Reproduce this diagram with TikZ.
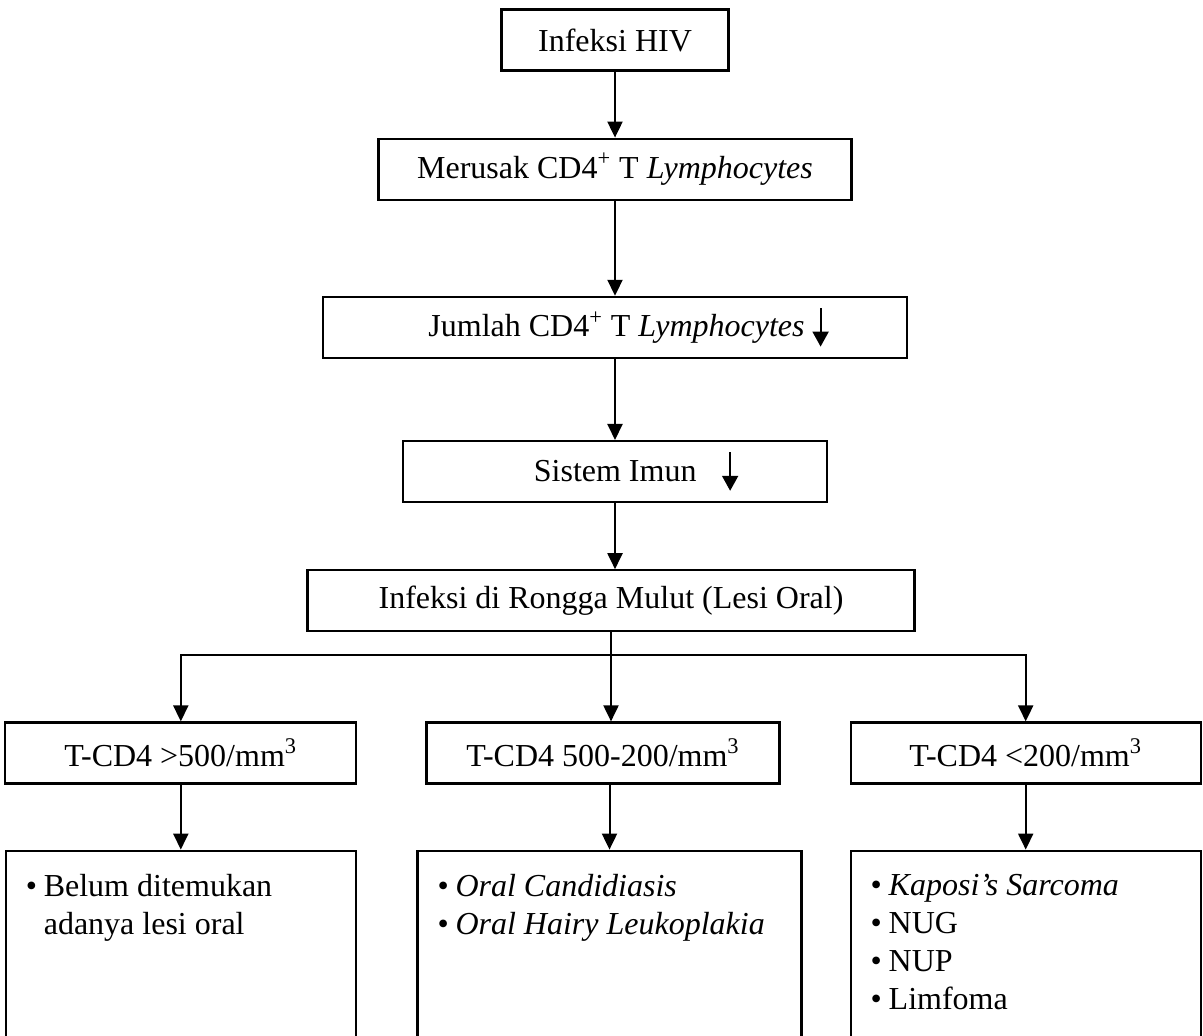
\documentclass[tikz,border=0pt]{standalone}
\usepackage{fontspec}
\setmainfont{Liberation Serif}
\usepackage{tikz}
\usetikzlibrary{positioning, arrows.meta}
\tikzset{
      kotak/.style={
		draw,
		line width=1.1pt,
		minimum width={#1},
		minimum height={30.5pt},
		inner sep=0pt,
	  },
      daftar/.style={
		draw,
		line width=1.1pt,
		inner xsep=10pt,
		inner ysep=12pt,
	  },
  		panah/.style={
    	line width=1pt,
    	-{Triangle[length=8pt,width=7.5pt]},
      },
  		garis/.style={
    	line width=1pt,
      }
  	}
\newcommand{\turun}{\tikz[baseline]{\draw[line width=1pt,-{Triangle[length=7.5pt,width=8pt]}] (0,0.9em) -- (0,-0.3em);}}
\newcommand{\isi}[2]{\parbox[t][85pt][t]{#1}{\raggedright #2}}
\newcommand{\butir}{\makebox[9pt][l]{\textbullet}}

\begin{document}
\begin{tikzpicture}[x=0.5pt, y=-0.5pt, font=\fontsize{16pt}{19pt}\selectfont]
    \useasboundingbox (0,0) rectangle (1203,1036);
    \node [kotak=113.5pt] (hiv) at (615,40) {Infeksi HIV};
    \node [kotak=236.5pt, below=33pt of hiv] (rusak) {Merusak CD4\textsuperscript{+} T \textit{Lymphocytes}};
    \node [kotak=292pt, below=47.5pt of rusak] (jumlah) {\hspace*{13.5pt}Jumlah CD4\textsuperscript{+} T \textit{Lymphocytes} \turun};
    \node [kotak=212pt, below=40.5pt of jumlah] (imun) {\hspace*{21pt}Sistem Imun\hspace{0.8em}\turun};
    \node [kotak=303.5pt, below=33pt of imun, xshift=-2pt] (lesi) {Infeksi di Rongga Mulut (Lesi Oral)};
    \node [kotak=176.5pt, below=44.5pt of lesi, xshift=-4pt] (t2) {T-CD4 500-200/mm\textsuperscript{3}};
    \node [kotak=175.5pt, left=34pt of t2] (t1) {T-CD4 >500/mm\textsuperscript{3}};
    \node [kotak=175pt, right=34.5pt of t2] (t3) {T-CD4 <200/mm\textsuperscript{3}};
    \node [daftar, below=32.5pt of t1] (b1) {\isi{155pt}{\butir Belum ditemukan\\\hspace*{9pt}adanya lesi oral}};
    \node [daftar, below=32.5pt of t2, xshift=3.25pt] (b2) {\isi{172pt}{\butir\textit{Oral Candidiasis}\\\butir\textit{Oral Hairy Leukoplakia}}};
    \node [daftar, below=32.5pt of t3] (b3) {\isi{155pt}{\butir\textit{Kaposi's Sarcoma}\\\butir NUG\\\butir NUP\\\butir Limfoma}};
    \coordinate [below=11.5pt of lesi] (cabang);
    \draw [panah] (hiv) -- (rusak);
    \draw [panah] (rusak) -- (jumlah);
    \draw [panah] (jumlah) -- (imun);
    \draw [panah] (imun) -- (imun |- lesi.north);
    \draw [garis] (lesi) -- (cabang);
    \draw [panah] (cabang) -| (t1);
    \draw [panah] (cabang) -- (cabang |- t2.north);
    \draw [panah] (cabang) -| (t3);
    \draw [panah] (t1) -- (b1);
    \draw [panah] (b2.north |- t2.south) -- (b2);
    \draw [panah] (t3) -- (b3);
\end{tikzpicture}
\end{document}
